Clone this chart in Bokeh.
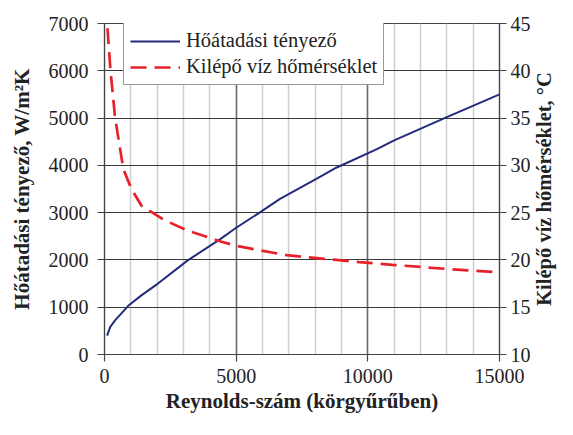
import math
from bokeh.plotting import figure
from bokeh.models import Range1d, LinearAxis, SingleIntervalTicker, Legend, LegendItem, Grid, Label
from bokeh.embed import file_html
from bokeh.resources import INLINE

# Heat transfer coefficient (left axis)
re_htc = [100, 214, 400, 900, 1400, 2030, 3160, 4410, 5000, 5915, 6665, 8045, 8800, 10365, 11000, 13000, 15000]
htc = [400, 580, 720, 1030, 1250, 1500, 1990, 2445, 2680, 3010, 3290, 3715, 3950, 4350, 4530, 5020, 5500]

# Outlet water temperature (right axis)
re_temp = [113, 225, 400, 715, 1026, 1400, 2280, 3160, 4410, 5000, 5915, 6920, 8800, 9675, 10930, 12935, 14960]
temp = [44.5, 40.1, 35.1, 29.6, 27.5, 25.75, 24.2, 23.1, 21.95, 21.5, 21.0, 20.5, 20.0, 19.77, 19.48, 19.06, 18.7]

x_title = "Reynolds-szám (körgyűrűben)"
y_title = "Hőátadási tényező, W/m²K"
y2_title = "Kilépő víz hőmérséklet, °C"
s1_name = "Hőátadási tényező"
s2_name = "Kilépő víz hőmérséklet"

FONT = "Liberation Serif"
TXT = "#222222"
FL, FR, FT, FB = 104, 58, 23, 65   # borders
W, H = 557, 419

p = figure(width=W, height=H, x_range=Range1d(0, 15000), y_range=Range1d(0, 7000),
           output_backend="svg", toolbar_location=None,
           min_border_left=FL, min_border_right=FR, min_border_top=FT, min_border_bottom=FB,
           x_axis_type=None, y_axis_type=None)
p.extra_y_ranges = {"right": Range1d(10, 45)}
p.outline_line_color = "#444444"
p.outline_line_width = 1.2
p.background_fill_color = "white"
p.border_fill_color = "white"

xt = SingleIntervalTicker(interval=5000, num_minor_ticks=5)
yt = SingleIntervalTicker(interval=1000, num_minor_ticks=0)
y2t = SingleIntervalTicker(interval=5, num_minor_ticks=0)

def style_axis(ax):
    ax.major_label_text_font = FONT
    ax.major_label_text_font_size = "20px"
    ax.major_label_text_color = TXT
    ax.axis_label_text_font = FONT
    ax.axis_label_text_font_size = "21px"
    ax.axis_label_text_font_style = "bold"
    ax.axis_label_text_color = TXT
    ax.axis_line_color = "#444444"
    ax.axis_line_width = 1.2
    ax.major_tick_line_color = "#444444"
    ax.major_tick_line_width = 1.2
    ax.minor_tick_line_color = None

xa = LinearAxis(ticker=xt, axis_label=x_title)
style_axis(xa)
xa.major_tick_in = 0
xa.major_tick_out = 7
xa.major_label_standoff = 7
xa.axis_label_standoff = 3
p.add_layout(xa, "below")

ya = LinearAxis(ticker=yt, axis_label=y_title)
style_axis(ya)
ya.major_tick_in = 0
ya.major_tick_out = 7
ya.major_label_standoff = 9
ya.axis_label_standoff = 12
p.add_layout(ya, "left")

y2a = LinearAxis(ticker=y2t, y_range_name="right")
style_axis(y2a)
y2a.major_tick_in = 7
y2a.major_tick_out = 7
y2a.major_label_standoff = 4
p.add_layout(y2a, "right")

frame_h = H - FT - FB
p.add_layout(Label(x=10, y=frame_h / 2, x_units="screen", y_units="screen",
                   text=y2_title, angle=math.pi / 2, text_align="center",
                   text_baseline="middle", text_font=FONT, text_font_size="20.5px",
                   text_font_style="bold", text_color=TXT), "right")

xgrid = Grid(dimension=0, ticker=xt, grid_line_color="#6a6a6a", grid_line_width=1.5,
             minor_grid_line_color="#cfcfcf", minor_grid_line_width=1.5)
ygrid = Grid(dimension=1, ticker=yt, grid_line_color="#3a3a3a", grid_line_width=1.2)
p.add_layout(xgrid)
p.add_layout(ygrid)

r1 = p.line(re_htc, htc, line_color="#232c7c", line_width=2)
r2 = p.line(re_temp, temp, y_range_name="right", line_color="#e8202a", line_width=2.7,
            line_dash="16 8")

legend = Legend(items=[LegendItem(label=s1_name, renderers=[r1]),
                       LegendItem(label=s2_name, renderers=[r2])],
                location=(19, frame_h - 7 - 55))
legend.label_text_font = FONT
legend.label_text_font_size = "20.5px"
legend.label_text_color = TXT
legend.padding = 6
legend.spacing = 3
legend.margin = 0
legend.label_height = 20
legend.glyph_height = 20
legend.glyph_width = 50
legend.label_standoff = 6
legend.border_line_color = "#333333"
legend.border_line_width = 1.5
legend.background_fill_alpha = 1.0
p.add_layout(legend)

open("out.html", "w").write(file_html(p, INLINE))
